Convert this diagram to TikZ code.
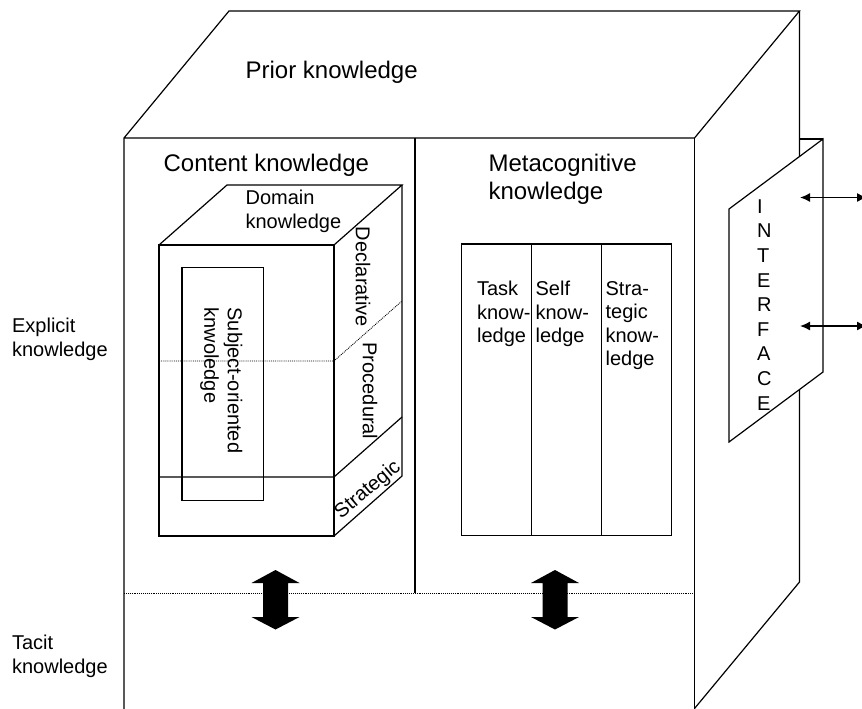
\documentclass[tikz,border=0pt]{standalone}
\usepackage{fontspec}
\setmainfont{Liberation Sans}
\usepackage{tikz}
\usetikzlibrary{arrows.meta}

\begin{document}
\begin{tikzpicture}[x=1pt,y=-1pt,line width=1.2pt,
        big/.style={font=\fontsize{24}{27.6}\selectfont,inner sep=0pt,align=left},
        small/.style={font=\fontsize{20}{23.5}\selectfont,inner sep=0pt,align=left},
        sep/.style={line width=0.9pt,densely dotted}]
        \useasboundingbox (0,0) rectangle (862,709);

        % Prior knowledge block
        \draw (124,709) -- (124,138) -- (229,11) -- (799.5,11) -- (694.5,138) -- (124,138);
        \draw (694.5,138) -- (694.5,709);
        \draw (799.5,11) -- (799.5,582) -- (694.5,708.5);
        \draw (415,138) -- (415,593);
        \draw[sep] (124,593) -- (694.5,593);

        % Domain knowledge cube
        \draw (159,245) rectangle (334,536);
        \draw (159,245) -- (227,185) -- (402,185) -- (334,245);
        \draw (402,185) -- (402,476) -- (334,536);
        \draw[sep] (159,361) -- (334,361) -- (402,301);
        \draw (159,477) -- (334,477) -- (402,417);
        \draw (182,267.5) rectangle (263.5,500.5);

        % Metacognitive columns
        \draw (461.5,244) rectangle (671.5,535.5);
        \foreach \cx in {531.5,601.5}
            \draw (\cx,244) -- (\cx,535.5);

        % Interface
        \draw[fill=white] (823,139) -- (823,372) -- (729,442) -- (729,209) -- cycle;
        \draw (799.5,139) -- (823,139);
        \coordinate (if1) at (800,197.5);
        \coordinate (ext1) at (867,197.5);
        \coordinate (if2) at (800,326);
        \coordinate (ext2) at (867,326);
        \draw[{Latex[length=10pt,width=9pt]}-{Latex[length=10pt,width=9pt]},line width=1.5pt] (if1) -- (ext1);
        \draw[{Latex[length=10pt,width=9pt]}-{Latex[length=10pt,width=9pt]},line width=1.5pt] (if2) -- (ext2);

        % Explicit <-> tacit arrows
        \foreach \ax in {275.5,555}
            \fill (\ax,570) -- (\ax+24,583) -- (\ax+12.5,583) -- (\ax+12.5,617) -- (\ax+24,617) -- (\ax,629.5)
                -- (\ax-24,617) -- (\ax-12.5,617) -- (\ax-12.5,583) -- (\ax-24,583) -- cycle;

        % Labels
        \node[big,anchor=north west] (prior) at (245,61) {Prior knowledge};
        \node[big,anchor=north west] (content) at (163,154) {Content knowledge};
        \node[big,anchor=north west] (meta) at (488,154) {Metacognitive\\knowledge};
        \node[small,anchor=north west] (domain) at (245,189.5) {Domain\\knowledge};
        \node[small,anchor=north west,rotate=-90] (subject) at (243,307) {Subject-oriented\\knwoledge};
        \node[small,rotate=-90] (decl) at (363,277) {Declarative};
        \node[small,rotate=-90] (proc) at (370,391) {Procedural};
        \node[small,rotate=40] (strat) at (368,490) {Strategic};
        \node[small,anchor=north west] (task) at (476.5,280.5) {Task\\know-\\ledge};
        \node[small,anchor=north west] (self) at (535,280.5) {Self\\know-\\ledge};
        \node[small,anchor=north west] (strategic) at (605,280.5) {Stra-\\tegic\\know-\\ledge};
        \node[small,anchor=north west,font=\fontsize{20}{24.6}\selectfont] (interface) at (756.5,199) {I\\N\\T\\E\\R\\F\\A\\C\\E};
        \node[small,anchor=north west] (explicit) at (11.5,317.5) {Explicit\\knowledge};
        \node[small,anchor=north west] (tacit) at (11.5,634.5) {Tacit\\knowledge};

    \end{tikzpicture}
\end{document}
